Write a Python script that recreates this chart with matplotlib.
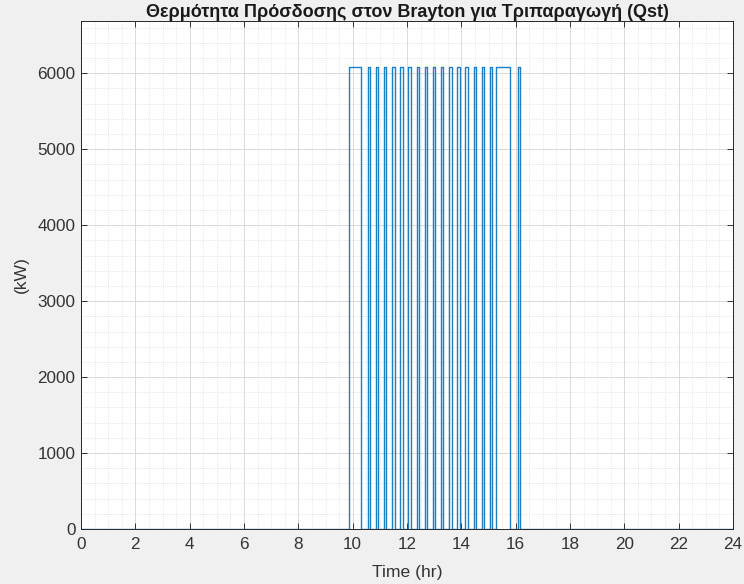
import numpy as np
import matplotlib.pyplot as plt
from matplotlib.ticker import MultipleLocator

plt.rcParams['font.family'] = ['Liberation Sans', 'DejaVu Sans']

# Heat input pulses (start hr, end hr) and level in kW
pulse_starts = [9.87, 10.55, 10.85, 11.15, 11.45, 11.75, 12.05, 12.35, 12.65,
                12.95, 13.25, 13.55, 13.85, 14.15, 14.45, 14.75, 15.05, 15.28, 16.07]
pulse_ends = [10.32, 10.64, 10.94, 11.24, 11.54, 11.84, 12.14, 12.44, 12.74,
              13.04, 13.34, 13.64, 13.94, 14.24, 14.54, 14.84, 15.14, 15.78, 16.15]
q_level = 6085
t_start, t_end = 0, 24

# Build the step signal
t = [t_start]
q = [0]
for s, e in zip(pulse_starts, pulse_ends):
    t += [s, s, e, e]
    q += [0, q_level, q_level, 0]
t.append(t_end)
q.append(0)

fig = plt.figure(figsize=(7.44, 5.84), dpi=100, facecolor='#f0f0f0')
ax = fig.add_axes([0.1089, 0.0942, 0.8763, 0.870])
ax.set_facecolor('white')
ax.plot(t, q, color='#1a7fc4', linewidth=1.0)

ax.set_xlim(0, 24)
ax.set_ylim(0, 6690)
ax.xaxis.set_major_locator(MultipleLocator(2))
ax.xaxis.set_minor_locator(MultipleLocator(0.5))
ax.yaxis.set_major_locator(MultipleLocator(1000))
ax.yaxis.set_minor_locator(MultipleLocator(200))

ax.grid(which='major', color='#d9d9d9', linewidth=0.7, linestyle='-')
ax.grid(which='minor', color='#cfcfcf', linewidth=0.5, linestyle=(0, (1, 2)))
ax.set_axisbelow(True)

for side in ax.spines.values():
    side.set_color('#262626')
    side.set_linewidth(0.7)
ax.tick_params(which='major', direction='in', length=4, width=0.7,
               colors='#333333', labelsize=12.3, top=True, right=True)
ax.tick_params(which='minor', length=0, top=True, right=True)
ax.tick_params(axis='x', pad=6)
ax.tick_params(axis='y', pad=4)

ax.set_xlabel('Time (hr)', fontsize=12.6, color='#333333', labelpad=9)
ax.set_ylabel('(kW)', fontsize=12.6, color='#333333', labelpad=6)
ax.set_title('Θερμότητα Πρόσδοσης στον Brayton για Τριπαραγωγή (Qst)',
             fontsize=13, fontweight='bold', color='#1a1a1a', pad=1)

fig.savefig('out.png', dpi=100, facecolor=fig.get_facecolor())
